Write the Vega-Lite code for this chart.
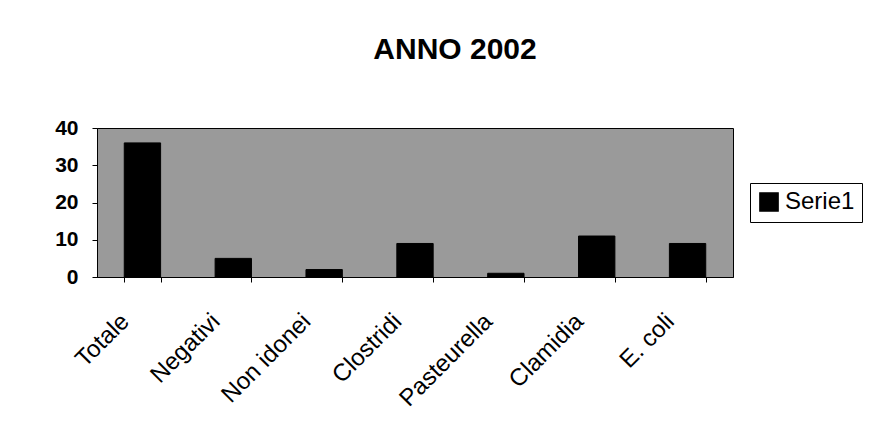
{
  "$schema": "https://vega.github.io/schema/vega-lite/v6.json",
  "autosize": "none",
  "width": 636,
  "height": 149,
  "padding": {"left": 97, "top": 128, "right": 140, "bottom": 169},
  "background": "white",
  "title": {"text": "ANNO 2002", "font": "Liberation Sans", "fontSize": 30, "fontWeight": "bold", "color": "#000", "offset": 52, "dx": 40},
  "data": {"values": [
    {"categoria": "Totale", "valore": 36, "serie": "Serie1"},
    {"categoria": "Negativi", "valore": 5, "serie": "Serie1"},
    {"categoria": "Non idonei", "valore": 2, "serie": "Serie1"},
    {"categoria": "Clostridi", "valore": 9, "serie": "Serie1"},
    {"categoria": "Pasteurella", "valore": 1, "serie": "Serie1"},
    {"categoria": "Clamidia", "valore": 11, "serie": "Serie1"},
    {"categoria": "E. coli", "valore": 9, "serie": "Serie1"}
  ]},
  "mark": {"type": "bar", "stroke": "#000", "strokeWidth": 1},
  "encoding": {
    "x": {"field": "categoria", "type": "nominal", "sort": null,
      "scale": {"paddingInner": 0.6, "paddingOuter": 0.3},
      "axis": {"title": null, "labelAngle": -45, "tickBand": "extent", "labelFont": "Liberation Sans", "labelFontSize": 24, "labelColor": "#000", "domainColor": "#000", "tickColor": "#000", "tickSize": 5, "labelPadding": 27, "labelOffset": -26, "labelOverlap": false}},
    "y": {"field": "valore", "type": "quantitative",
      "scale": {"domain": [0, 40]},
      "axis": {"title": null, "values": [0, 10, 20, 30, 40], "grid": false, "labelFont": "Liberation Sans", "labelFontSize": 21, "labelFontWeight": "bold", "labelColor": "#000", "domainColor": "#000", "tickColor": "#000", "tickSize": 5, "labelPadding": 14}},
    "color": {"field": "serie", "type": "nominal", "scale": {"range": ["#000"]},
      "legend": {"title": null, "orient": "none", "legendX": 653, "legendY": 55, "strokeColor": "#000", "padding": 7, "symbolType": "square", "symbolSize": 330, "labelFont": "Liberation Sans", "labelFontSize": 24, "labelColor": "#000", "fillColor": "white", "labelOffset": 4}}
  },
  "config": {"view": {"fill": "#9a9a9a", "stroke": "#000", "strokeWidth": 1}}
}
